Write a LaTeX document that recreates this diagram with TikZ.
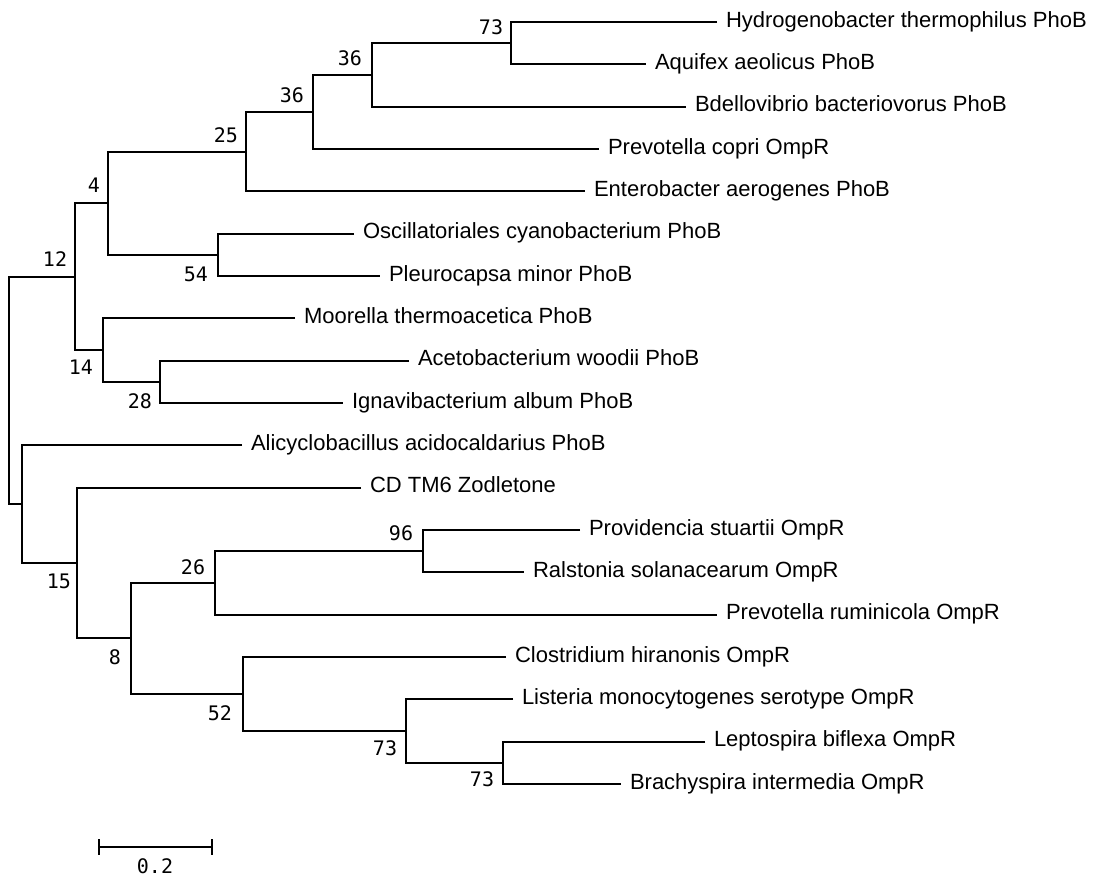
\documentclass[tikz,border=0pt]{standalone}
\usepackage{fontspec}
\setmainfont{Liberation Sans}
\newfontfamily\bsfont{DejaVu Sans Mono}
\begin{document}
\begin{tikzpicture}[x=0.5pt,y=-0.5pt,line width=1pt,line join=miter,
  leaf/.style={anchor=mid west,inner xsep=4pt,inner ysep=0pt,font=\fontsize{11}{13}\selectfont},
  bs/.style={font=\bsfont\fontsize{10}{12}\selectfont,inner sep=0pt}]
\useasboundingbox (0,0) rectangle (1105,880);
% leaves
\node[leaf] (hyd) at (717,22.0) {Hydrogenobacter thermophilus PhoB};
\node[leaf] (aqu) at (646,64.3) {Aquifex aeolicus PhoB};
\node[leaf] (bde) at (686,106.7) {Bdellovibrio bacteriovorus PhoB};
\node[leaf] (pco) at (599,149.0) {Prevotella copri OmpR};
\node[leaf] (ent) at (585,191.3) {Enterobacter aerogenes PhoB};
\node[leaf] (osc) at (354,233.7) {Oscillatoriales cyanobacterium PhoB};
\node[leaf] (ple) at (380,276.0) {Pleurocapsa minor PhoB};
\node[leaf] (moo) at (295,318.3) {Moorella thermoacetica PhoB};
\node[leaf] (ace) at (409,360.6) {Acetobacterium woodii PhoB};
\node[leaf] (ign) at (343,403.0) {Ignavibacterium album PhoB};
\node[leaf] (ali) at (242,445.3) {Alicyclobacillus acidocaldarius PhoB};
\node[leaf] (cdt) at (361,487.6) {CD TM6 Zodletone};
\node[leaf] (pro) at (580,530.0) {Providencia stuartii OmpR};
\node[leaf] (ral) at (524,572.3) {Ralstonia solanacearum OmpR};
\node[leaf] (pru) at (717,614.6) {Prevotella ruminicola OmpR};
\node[leaf] (clo) at (506,657.0) {Clostridium hiranonis OmpR};
\node[leaf] (lis) at (513,699.3) {Listeria monocytogenes serotype OmpR};
\node[leaf] (lep) at (705,741.6) {Leptospira biflexa OmpR};
\node[leaf] (bra) at (621,784.0) {Brachyspira intermedia OmpR};
% internal nodes
\coordinate (n73a) at (511,43.2);
\coordinate (n36a) at (372,74.9);
\coordinate (n36b) at (313,112.0);
\coordinate (n25) at (246,151.7);
\coordinate (n54) at (218,254.8);
\coordinate (n4) at (108,203.3);
\coordinate (n28) at (160,381.8);
\coordinate (n14) at (103,350.0);
\coordinate (n12) at (75,276.7);
\coordinate (n96) at (423,551.2);
\coordinate (n26) at (215,582.9);
\coordinate (n73b) at (503,762.8);
\coordinate (n73c) at (406,731.0);
\coordinate (n52) at (243,694.0);
\coordinate (n8) at (131,638.4);
\coordinate (n15) at (77,563.0);
\coordinate (nA) at (22,504.2);
\coordinate (root) at (9,390.5);
% branches
\draw (hyd.mid west) -| (n73a) |- (aqu.mid west);
\draw (n73a) -| (n36a) |- (bde.mid west);
\draw (n36a) -| (n36b) |- (pco.mid west);
\draw (n36b) -| (n25) |- (ent.mid west);
\draw (osc.mid west) -| (n54) |- (ple.mid west);
\draw (n25) -| (n4) |- (n54);
\draw (ace.mid west) -| (n28) |- (ign.mid west);
\draw (moo.mid west) -| (n14) |- (n28);
\draw (n4) -| (n12) |- (n14);
\draw (pro.mid west) -| (n96) |- (ral.mid west);
\draw (n96) -| (n26) |- (pru.mid west);
\draw (lep.mid west) -| (n73b) |- (bra.mid west);
\draw (lis.mid west) -| (n73c) |- (n73b);
\draw (clo.mid west) -| (n52) |- (n73c);
\draw (n26) -| (n8) |- (n52);
\draw (cdt.mid west) -| (n15) |- (n8);
\draw (ali.mid west) -| (nA) |- (n15);
\draw (n12) -| (root) |- (nA);
% bootstrap values
\node[bs] (b73a) at (491,27) {73};
\node[bs] (b36a) at (350,58) {36};
\node[bs] (b36b) at (292,95) {36};
\node[bs] (b25) at (226,135) {25};
\node[bs] (b4) at (94,185) {4};
\node[bs] (b12) at (55,259) {12};
\node[bs] (b54) at (196,274) {54};
\node[bs] (b14) at (81,367) {14};
\node[bs] (b28) at (140,401) {28};
\node[bs] (b96) at (401,533) {96};
\node[bs] (b26) at (193,567) {26};
\node[bs] (b15) at (59,581) {15};
\node[bs] (b8) at (115,657) {8};
\node[bs] (b52) at (220,713) {52};
\node[bs] (b73c) at (385,748) {73};
\node[bs] (b73b) at (482,779) {73};
% scale bar
\coordinate (sbl) at (99,847);
\coordinate (sbr) at (212,847);
\draw (sbl) -- (sbr);
\draw (sbl) ++(0,-8) -- ++(0,16);
\draw (sbr) ++(0,-8) -- ++(0,16);
\node[bs] (sbt) at (155,866) {0.2};
\end{tikzpicture}
\end{document}
